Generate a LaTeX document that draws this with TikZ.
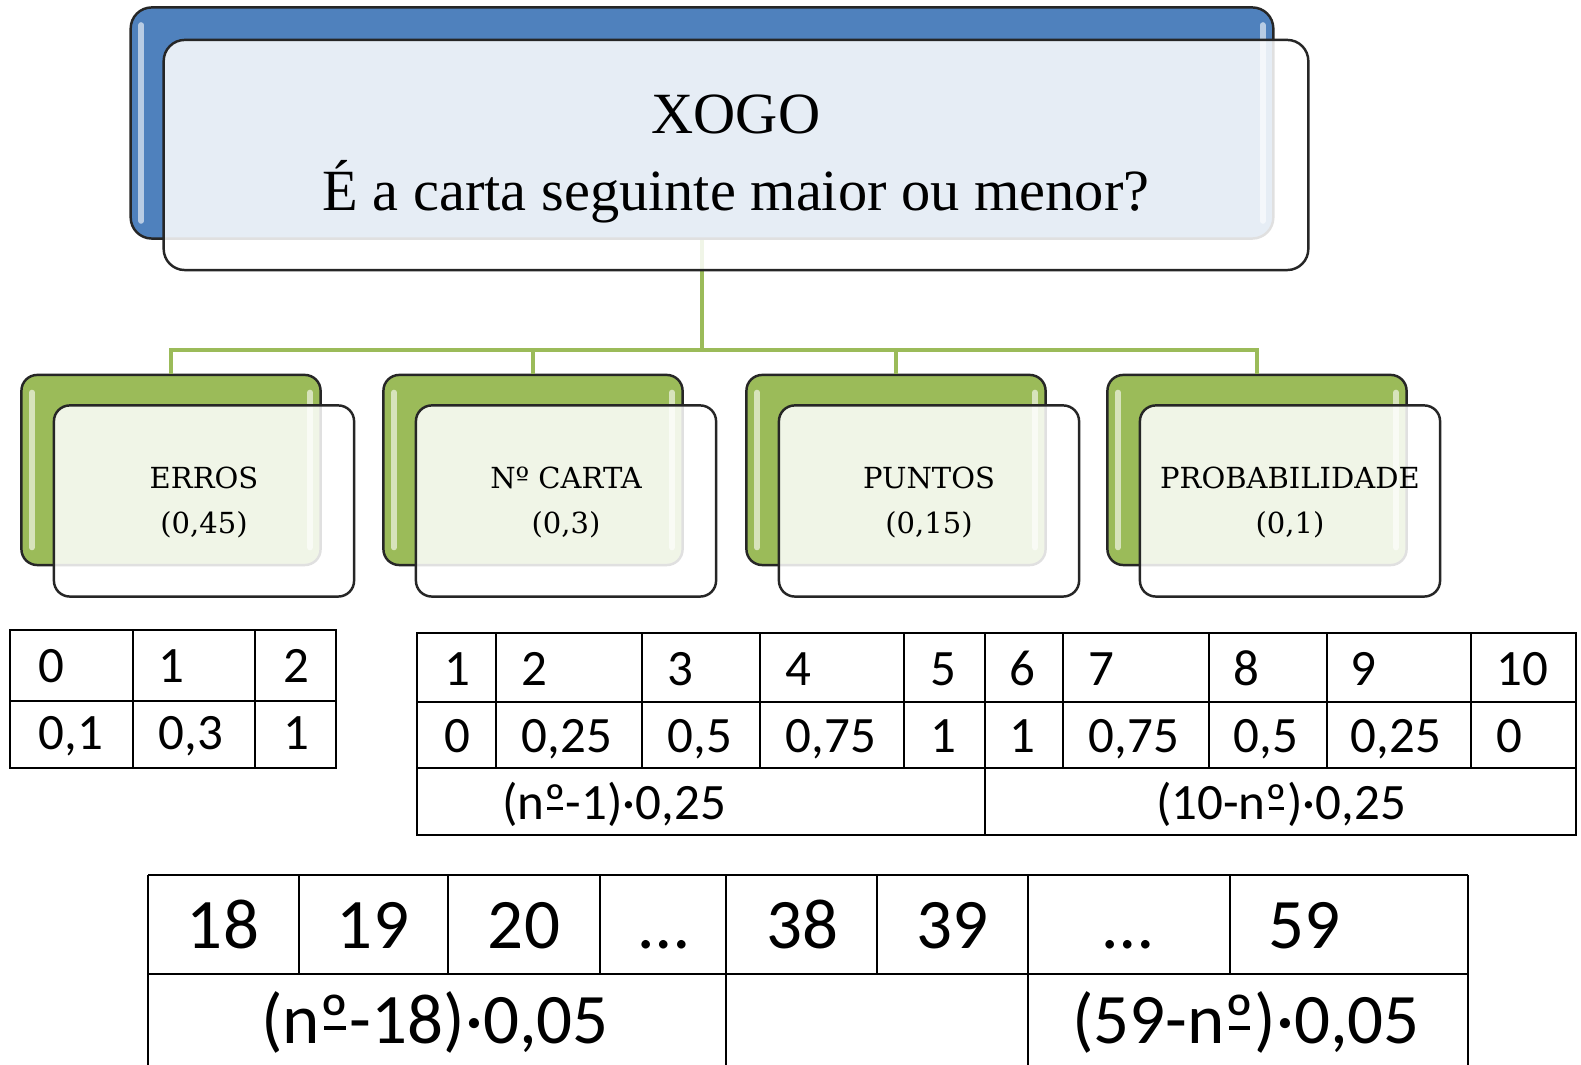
\documentclass[tikz,border=0pt]{standalone}
\usepackage{fontspec}
\setmainfont{Liberation Serif}
\newfontfamily\tabfont{Carlito}
\newfontfamily\labfont{DejaVu Serif}
\newcommand\ordbar{\ooalign{º\cr\hidewidth\rule[0.2em]{0.3em}{0.055em}\hidewidth\cr}}
\newcommand\hitop{\rule{0pt}{0.46cm}}
\newcommand\hisub{\rule{0pt}{0.24cm}}

\definecolor{xblue}{HTML}{4F81BD}
\definecolor{xgreen}{HTML}{9BBB59}

\tikzset{
  gloss/.style={path picture={
    \draw[white,opacity=.6,line width=1.6pt,line cap=round]
      ([shift={(3pt,-5pt)}]path picture bounding box.north west) -- ([shift={(3pt,5pt)}]path picture bounding box.south west)
      ([shift={(-3pt,-5pt)}]path picture bounding box.north east) -- ([shift={(-3pt,5pt)}]path picture bounding box.south east);}},
  backbox/.style={draw=black!85, line width=0.7pt, gloss},
  topback/.style={backbox, fill=xblue, rounded corners=6pt, minimum width=11.42cm, minimum height=2.31cm},
  subback/.style={backbox, fill=xgreen, rounded corners=4.5pt, minimum width=2.99cm, minimum height=1.90cm},
  frontbox/.style={draw=black!85, line width=0.7pt, fill=white, fill opacity=.86, text opacity=1, align=center},
  topfront/.style={frontbox, rounded corners=6pt, minimum width=11.44cm, minimum height=2.30cm,
    font=\fontsize{16.6}{22}\selectfont},
  subfront/.style={frontbox, rounded corners=4.5pt, minimum width=3.0cm, minimum height=1.91cm,
    font=\labfont\fontsize{8.25}{12.8}\selectfont},
  link/.style={draw=xgreen, line width=1pt},
  tabline/.style={line width=0.6pt},
  cell/.style={anchor=base west, inner sep=0pt, font=\tabfont\fontsize{14.5}{16}\selectfont},
  midcell/.style={cell, anchor=base},
  bigcell/.style={anchor=base, inner sep=0pt, font=\tabfont\fontsize{20.2}{22}\selectfont},
}

\begin{document}
\begin{tikzpicture}[x=0.01cm, y=-0.01cm]
\useasboundingbox (0,0) rectangle (1581,1065);

% boxes behind
\node[topback] (xogoback) at (702,123) {};
\node[subback] (errosback) at (171,470) {};
\node[subback] (cartaback) at (533,470) {};
\node[subback] (puntosback) at (896,470) {};
\node[subback] (probback) at (1257,470) {};

% tree
\coordinate (hub) at (702,350);
\draw[link] (xogoback.south) -- (hub);
\draw[link] (hub) -| (errosback.north);
\draw[link] (hub) -| (cartaback.north);
\draw[link] (hub) -| (puntosback.north);
\draw[link] (hub) -| (probback.north);

% boxes in front
\node[topfront] (xogo) at ([shift={(34,32)}]xogoback) {\hitop XOGO\\É a carta seguinte maior ou menor?};
\node[subfront] (erros) at ([shift={(33,31)}]errosback) {\hisub ERROS\\(0,45)};
\node[subfront] (carta) at ([shift={(33,31)}]cartaback) {\hisub Nº CARTA\\(0,3)};
\node[subfront] (puntos) at ([shift={(33,31)}]puntosback) {\hisub PUNTOS\\(0,15)};
\node[subfront] (prob) at ([shift={(33,31)}]probback) {\hisub PROBABILIDADE\\(0,1)};


% erros
\draw[tabline] (10,630) rectangle (336,768);
\draw[tabline] (10,701) -- (336,701);
\draw[tabline] (133,630) -- (133,768) (255,630) -- (255,768);
\node[cell] (ea) at (38,683) {0};
\node[cell] (eb) at (158,683) {1};
\node[cell] (ec) at (283,683) {2};
\node[cell] (pa) at (38,750) {0,1};
\node[cell] (pb) at (158,750) {0,3};
\node[cell] (pc) at (283,750) {1};

% numero de carta
\draw[tabline] (417,633) rectangle (1576,835);
\draw[tabline] (417,702) -- (1576,702) (417,768) -- (1576,768);
\draw[tabline] (985,633) -- (985,835);
\draw[tabline] (496,633) -- (496,768) (642,633) -- (642,768) (760,633) -- (760,768) (904,633) -- (904,768);
\draw[tabline] (1063,633) -- (1063,768) (1209,633) -- (1209,768) (1327,633) -- (1327,768) (1471,633) -- (1471,768);
\node[cell] (c1) at (444,686) {1};
\node[cell] (c2) at (521,686) {2};
\node[cell] (c3) at (667,686) {3};
\node[cell] (c4) at (785,686) {4};
\node[cell] (c5) at (930,686) {5};
\node[cell] (c6) at (1009,686) {6};
\node[cell] (c7) at (1088,686) {7};
\node[cell] (c8) at (1233,686) {8};
\node[cell] (c9) at (1350,686) {9};
\node[cell] (c10) at (1496,686) {10};
\node[cell] (v1) at (444,753) {0};
\node[cell] (v2) at (521,753) {0,25};
\node[cell] (v3) at (667,753) {0,5};
\node[cell] (v4) at (785,753) {0,75};
\node[cell] (v5) at (930,753) {1};
\node[cell] (v6) at (1009,753) {1};
\node[cell] (v7) at (1088,753) {0,75};
\node[cell] (v8) at (1233,753) {0,5};
\node[cell] (v9) at (1350,753) {0,25};
\node[cell] (v10) at (1496,753) {0};
\node[midcell] (fsube) at (614,820) {(n\ordbar-1)·0,25};
\node[midcell] (fbaixa) at (1281,820) {(10-n\ordbar)·0,25};

% puntos
\draw[tabline] (148,875) -- (1468,875) (148,974) -- (1468,974);
\draw[tabline] (148,875) -- (148,1065) (726,875) -- (726,1065) (1028,875) -- (1028,1065) (1468,875) -- (1468,1065);
\draw[tabline] (299,875) -- (299,974) (448,875) -- (448,974) (600,875) -- (600,974) (877,875) -- (877,974) (1230,875) -- (1230,974);
\node[bigcell] (p18) at (223,949) {18};
\node[bigcell] (p19) at (373,949) {19};
\node[bigcell] (p20) at (524,949) {20};
\node[bigcell] (pdots) at (664,949) {…};
\node[bigcell] (p38) at (802,949) {38};
\node[bigcell] (p39) at (952,949) {39};
\node[bigcell] (qdots) at (1128,949) {…};
\node[bigcell] (p59) at (1304,949) {59};
\node[bigcell] (gsube) at (435,1044) {(n\ordbar-18)·0,05};
\node[bigcell] (gbaixa) at (1246,1044) {(59-n\ordbar)·0,05};
\end{tikzpicture}
\end{document}
